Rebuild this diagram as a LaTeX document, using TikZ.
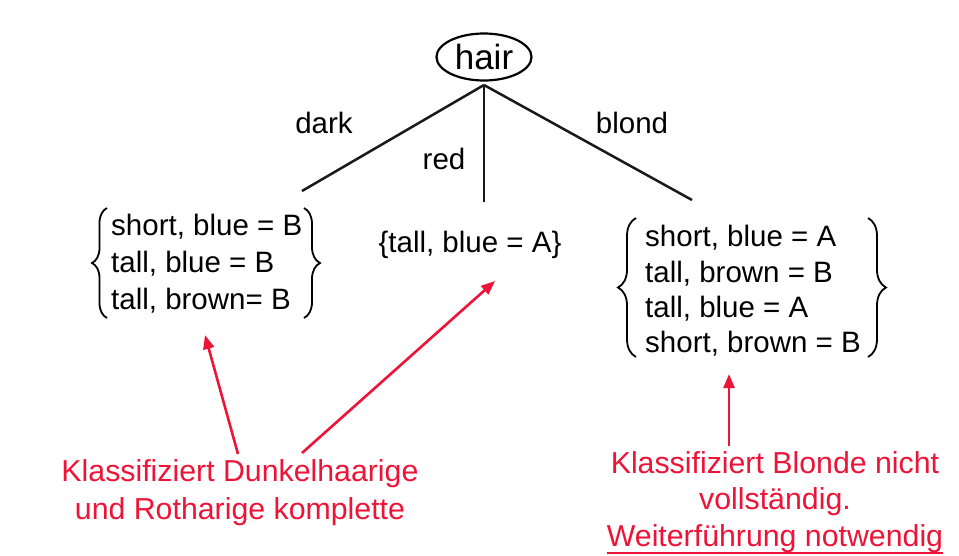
\documentclass[tikz,border=0pt]{standalone}
\usepackage{fontspec}
\setmainfont{Liberation Sans}
\usetikzlibrary{shapes.geometric,decorations.pathreplacing,arrows.meta}
\definecolor{notered}{RGB}{238,20,55}
\begin{document}
\begin{tikzpicture}[x=1pt,y=-1pt,
  txt/.style={font=\fontsize{29.5}{37}\selectfont, inner sep=0pt},
  edge/.style={line width=2.5pt, black!90},
  bracestyle/.style={decorate, decoration={brace, amplitude=#1, aspect=0.5}, line width=1.8pt},
  note/.style={text=notered, font=\fontsize{30.3}{38}\selectfont, align=center, inner sep=0pt},
  pointer/.style={draw=notered, line width=2.6pt, -{Triangle[length=14pt,width=11pt]}},
]
\useasboundingbox (0,0) rectangle (959,555);
\fill[white] (0,0) rectangle (959,555);

% root
\node[ellipse, draw, line width=2.2pt, minimum width=95pt, minimum height=47pt, inner sep=0pt,
      font=\fontsize{35}{40}\selectfont] (hair) at (484,57) {hair};
\coordinate (apex) at (484,85);
\coordinate (darkend) at (302,191);
\coordinate (redend) at (484,202);
\coordinate (blondend) at (692,200);
\draw[edge] (apex) -- (darkend);
\draw[edge] (apex) -- (redend);
\draw[edge] (apex) -- (blondend);

% branch labels
\node[txt] (darklbl) at (324,123) {dark};
\node[txt] (redlbl) at (444,159) {red};
\node[txt] (blondlbl) at (632,123) {blond};

% left block
\node[txt, align=left, anchor=west] (L) at (111,264) {short, blue = B\\tall, blue = B\\tall, brown= B};
\draw[bracestyle=15pt] (107,318) -- (107,208);
\draw[bracestyle=16pt] (304,208) -- (304,318);

% middle block
\node[txt] (M) at (470,245) {\{tall, blue = A\}};

% right block
\node[txt, align=left, anchor=west, font=\fontsize{29.5}{35.3}\selectfont] (R) at (645,291)
  {short, blue = A\\tall, brown = B\\tall, blue = A\\short, brown = B};
\draw[bracestyle=18pt] (636,357) -- (636,218);
\draw[bracestyle=18pt] (868,218) -- (868,357);

% notes
\node[note] (noteL) at (240,493) {Klassifiziert Dunkelhaarige\\und Rotharige komplette};
\node[note, font=\fontsize{30.3}{36.5}\selectfont] (noteR) at (775,502)
  {Klassifiziert Blonde nicht\\vollständig.\\Weiterführung notwendig};
\draw[notered, line width=1.8pt] ([yshift=-0.5pt]noteR.south west) -- ([yshift=-0.5pt]noteR.south east);

% pointers
\coordinate (startL1) at (238,454);
\coordinate (startL2) at (302,453);
\coordinate (startR) at (729,446);
\coordinate (tipL) at (205,335);
\coordinate (tipM) at (495,281);
\coordinate (tipR) at (729,374);
\draw[pointer] (startL1) -- (tipL);
\draw[pointer] (startL2) -- (tipM);
\draw[pointer] (startR) -- (tipR);
\end{tikzpicture}
\end{document}
